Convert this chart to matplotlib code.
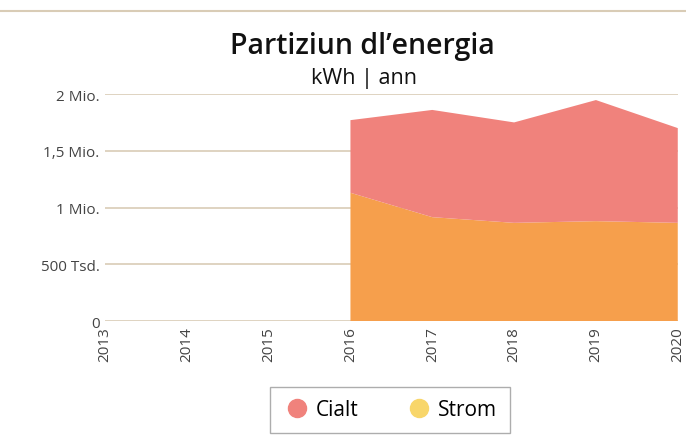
import matplotlib.pyplot as plt
from matplotlib.lines import Line2D

years = [2013, 2014, 2015, 2016, 2017, 2018, 2019, 2020]
data_years = [2016, 2017, 2018, 2019, 2020]
strom = [1130000, 915000, 865000, 880000, 865000]
cialt = [640000, 945000, 885000, 1067000, 835000]
y_ticks = [0, 500000, 1000000, 1500000, 2000000]
y_labels = ["0", "500 Tsd.", "1 Mio.", "1,5 Mio.", "2 Mio."]

plt.rcParams['font.family'] = ['Open Sans', 'DejaVu Sans']

fig = plt.figure(figsize=(6.86, 4.39), dpi=100)
ax = fig.add_axes([0.153, 0.2665, 0.835, 0.517])

c_strom = '#f69f4c'
c_cialt = '#f0827c'
ax.stackplot(data_years, strom, cialt, colors=[c_strom, c_cialt], linewidth=0)

ax.set_xlim(2013, 2020)
ax.set_ylim(0, 2000000)
ax.set_xticks(years)
ax.set_xticklabels([str(y) for y in years], rotation=90, fontsize=11, color='#444444')
ax.set_yticks(y_ticks)
ax.set_yticklabels(y_labels, fontsize=11, color='#444444')
ax.tick_params(axis='both', length=0, pad=4)
ax.grid(axis='y', color='#d9ccb6', linewidth=1.2)
ax.set_axisbelow(True)
for s in ax.spines.values():
    s.set_visible(False)

fig.text(0.528, 0.895, "Partiziun dl\u2019energia", ha='center', va='center',
         fontsize=20.5, fontweight='semibold', color='#111111')
fig.text(0.53, 0.822, "kWh | ann", ha='center', va='center', fontsize=15.5, color='#111111')

# top border line
fig.add_artist(Line2D([0.0, 1.0], [0.972, 0.972], color='#d9ccb6', linewidth=1.5))

handles = [Line2D([], [], marker='o', linestyle='', markersize=13, color=c_cialt),
           Line2D([], [], marker='o', linestyle='', markersize=13, color='#f8d66a')]
leg = fig.legend(handles, ['Cialt', 'Strom'], loc='center', bbox_to_anchor=(0.5685, 0.064),
                 ncol=2, fontsize=15, frameon=True, fancybox=False, edgecolor='#999999',
                 handletextpad=0.2, columnspacing=2.2, borderpad=0.6, handlelength=1.4)
leg.get_frame().set_linewidth(1.0)

fig.savefig('out.png', dpi=100)
